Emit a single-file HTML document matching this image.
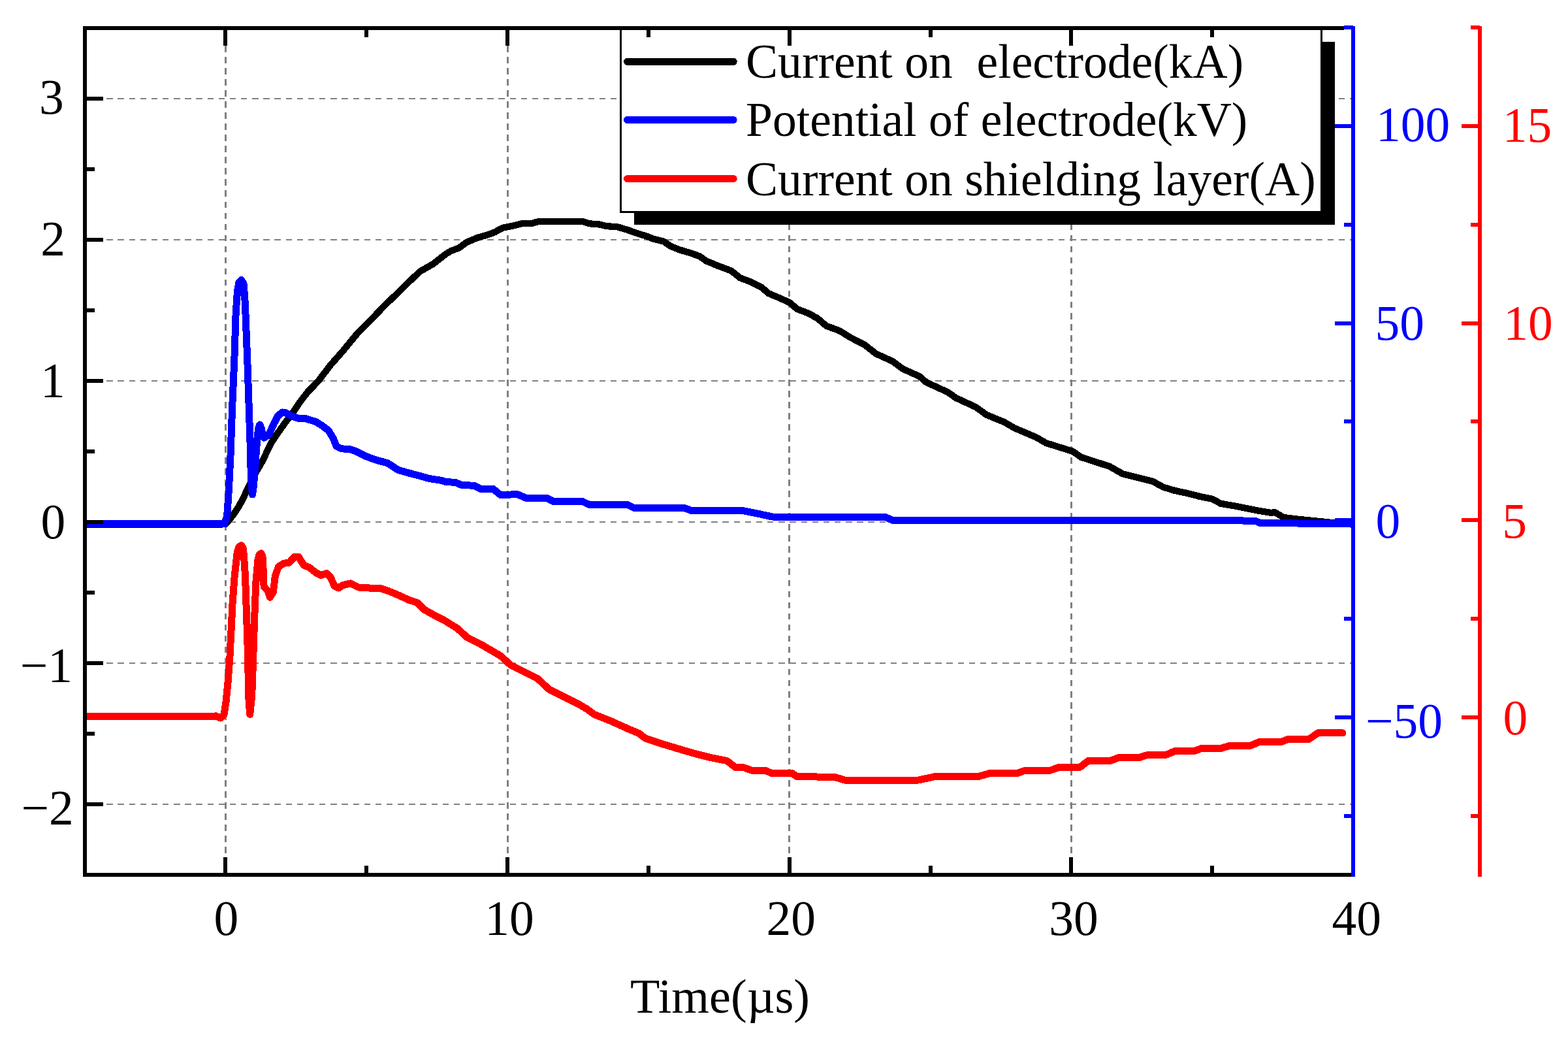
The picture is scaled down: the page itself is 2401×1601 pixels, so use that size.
<!DOCTYPE html>
<html><head><meta charset="utf-8"><title>Chart</title>
<style>html,body{margin:0;padding:0;background:#fff;} body{width:2401px;height:1601px;overflow:hidden;} svg{display:block;}</style>
</head><body>
<svg width="2401" height="1601" viewBox="0 0 2401 1601" shape-rendering="crispEdges">
<rect x="0" y="0" width="2401" height="1601" fill="#fff"/>
<g stroke="#808080" fill="none">
<line x1="345.4" y1="1340" x2="345.4" y2="43.0" stroke-width="3.0" stroke-dasharray="9.7 7.33"/>
<line x1="777.1" y1="1340" x2="777.1" y2="43.0" stroke-width="3.0" stroke-dasharray="9.7 7.33"/>
<line x1="1208.8" y1="1340" x2="1208.8" y2="43.0" stroke-width="3.0" stroke-dasharray="9.7 7.33"/>
<line x1="1640.4" y1="1340" x2="1640.4" y2="43.0" stroke-width="3.0" stroke-dasharray="9.7 7.33"/>
<line x1="128.9" y1="1231.0" x2="2072.0" y2="1231.0" stroke-width="2.2" stroke-dasharray="9.4 7.75"/>
<line x1="128.9" y1="1014.9" x2="2072.0" y2="1014.9" stroke-width="2.2" stroke-dasharray="9.4 7.75"/>
<line x1="128.9" y1="798.9" x2="2072.0" y2="798.9" stroke-width="2.2" stroke-dasharray="9.4 7.75"/>
<line x1="128.9" y1="582.9" x2="2072.0" y2="582.9" stroke-width="2.2" stroke-dasharray="9.4 7.75"/>
<line x1="128.9" y1="366.8" x2="2072.0" y2="366.8" stroke-width="2.2" stroke-dasharray="9.4 7.75"/>
<line x1="128.9" y1="150.8" x2="2072.0" y2="150.8" stroke-width="2.2" stroke-dasharray="9.4 7.75"/>
</g>
<clipPath id="pc"><rect x="130" y="43" width="1942" height="1295.8"/></clipPath>
<g clip-path="url(#pc)" fill="none" stroke-width="10.3" stroke-linejoin="round" stroke-linecap="round" shape-rendering="crispEdges">
<polyline stroke="#000" stroke-width="10.2" points="130.0,802.5 340.0,802.5 345.9,802.0 351.0,795.5 356.8,788.4 364.5,777.1 372.1,763.7 377.5,751.3 385.0,737.0 391.3,724.0 396.0,716.0 402.9,704.0 408.4,692.0 415.7,677.0 426.4,661.3 437.5,645.9 449.0,630.6 459.3,615.3 471.2,600.0 488.5,582.0 505.5,559.4 524.8,537.6 546.7,510.9 568.5,489.1 590.3,466.1 609.7,447.9 624.2,433.3 643.6,415.2 663.0,404.2 682.4,389.0 690.0,384.4 703.6,379.0 714.5,370.8 730.8,364.0 747.1,359.3 758.0,355.2 768.9,349.0 785.2,345.6 798.8,342.2 815.2,341.6 826.1,338.8 891.4,338.8 902.2,342.2 918.6,343.6 929.5,346.3 944.4,347.0 960.7,351.8 975.7,357.2 989.3,361.3 1000.0,365.4 1016.3,369.5 1027.2,377.0 1040.8,382.4 1057.1,387.2 1070.7,392.0 1081.6,399.5 1098.0,406.3 1119.7,414.4 1133.3,425.3 1149.7,431.4 1166.0,439.6 1176.9,449.1 1193.2,455.9 1209.5,463.4 1220.4,472.9 1238.1,479.7 1251.7,487.2 1265.3,498.8 1285.7,506.3 1302.0,516.5 1323.8,527.6 1341.6,541.6 1367.1,553.1 1382.4,564.6 1408.0,576.1 1418.2,585.0 1451.3,600.3 1464.1,609.2 1494.7,623.3 1510.0,634.7 1538.0,646.2 1553.4,655.2 1586.5,669.2 1601.8,678.1 1642.7,690.9 1655.4,699.8 1698.8,713.8 1719.2,725.3 1765.1,736.8 1781.0,745.5 1799.1,751.0 1818.3,755.0 1837.4,760.0 1856.5,763.8 1869.3,770.8 1888.4,774.0 1907.6,777.8 1926.7,781.6 1945.8,784.8 1952.2,784.2 1965.0,791.8 1984.1,794.4 2009.6,796.9 2035.1,799.5 2069.0,802.5"/>
<polyline stroke="#0000ff" stroke-width="11" points="130.0,801.5 340.0,801.5 344.0,801.5 347.6,789.5 349.3,766.6 350.7,743.6 351.8,720.6 353.0,697.7 355.7,622.2 358.8,551.5 361.1,480.7 363.5,445.4 366.0,432.0 369.5,428.4 373.0,434.0 374.8,455.0 376.0,480.7 378.8,551.5 381.2,622.2 383.7,697.7 384.1,720.6 385.3,743.6 386.5,757.0 388.4,743.6 390.3,720.6 391.9,697.7 394.1,669.0 396.0,654.0 397.7,650.0 400.0,655.0 403.0,668.0 404.5,670.0 411.5,665.8 419.1,649.0 425.3,636.8 432.2,631.0 436.8,631.4 445.9,636.5 457.4,640.6 467.4,640.6 483.6,645.5 493.3,651.5 503.0,658.8 510.3,670.9 515.2,683.0 522.4,686.7 537.0,687.9 544.2,690.3 561.2,698.8 578.2,704.8 592.7,708.5 602.4,714.5 609.7,719.4 626.7,724.2 641.2,727.9 658.2,732.7 675.2,735.2 682.4,737.6 697.0,738.3 706.7,742.4 725.9,743.3 736.1,748.4 755.3,748.4 766.7,757.8 792.2,756.5 805.0,762.1 836.9,762.1 847.1,767.5 891.7,767.5 901.9,772.3 960.6,772.3 970.8,777.4 1047.3,777.4 1060.1,782.0 1136.6,781.5 1164.7,787.1 1182.6,791.0 1355.7,791.5 1367.0,796.3 1899.9,796.3 1905.0,797.2 1922.0,797.2 1930.5,800.8 2069.0,801.3"/>
<polyline stroke="#ff0000" stroke-width="11" points="130.0,1097.0 322.4,1096.9 330.6,1095.9 337.8,1099.0 342.9,1093.9 345.9,1075.5 349.0,1044.9 352.0,1004.1 354.1,963.3 356.1,922.4 359.2,881.6 363.3,844.9 366.0,837.0 369.4,834.7 372.0,838.0 373.5,851.0 375.5,881.6 377.6,942.9 379.6,1004.1 380.6,1065.3 382.7,1093.5 385.7,1065.3 387.8,1004.1 389.8,942.9 391.8,891.8 394.9,857.1 397.0,849.0 400.0,846.9 402.0,852.0 403.1,871.4 404.1,898.0 410.2,904.1 413.3,914.3 418.4,906.1 421.4,881.6 426.5,867.3 434.7,862.2 442.9,861.2 451.0,852.0 457.1,852.0 465.3,865.3 473.5,868.4 483.7,876.5 491.8,880.6 500.0,877.6 506.1,883.7 512.2,896.9 518.4,900.0 524.5,895.9 536.7,892.9 549.0,899.0 565.3,900.0 581.6,900.0 595.9,905.1 606.1,909.2 626.5,918.4 638.8,922.4 649.0,932.7 667.3,942.9 679.6,949.0 700.4,961.9 715.7,975.9 736.1,986.1 751.4,995.0 766.7,1004.0 782.0,1018.0 802.4,1028.2 822.9,1038.4 840.7,1055.0 863.7,1066.5 884.1,1076.7 899.4,1085.6 909.6,1093.3 935.1,1103.5 960.6,1115.0 978.5,1122.6 988.7,1130.3 1011.6,1137.9 1037.1,1145.6 1049.9,1149.4 1067.8,1154.5 1088.2,1159.6 1113.7,1164.7 1126.4,1174.9 1139.2,1174.9 1151.9,1179.5 1172.3,1179.5 1182.5,1183.8 1213.1,1183.8 1220.8,1188.9 1277.4,1189.1 1293.1,1194.0 1406.4,1194.0 1430.9,1188.8 1497.1,1188.8 1514.5,1183.9 1556.4,1183.9 1570.3,1179.0 1608.7,1179.0 1622.6,1174.1 1654.0,1174.1 1666.2,1164.7 1699.3,1164.7 1713.3,1159.5 1744.6,1159.5 1758.6,1155.0 1786.5,1155.0 1798.7,1149.7 1828.3,1149.7 1840.5,1145.2 1870.2,1145.2 1884.1,1141.0 1915.5,1141.0 1927.7,1135.8 1960.8,1135.8 1973.0,1131.3 2004.4,1131.3 2018.4,1121.8 2056.0,1121.8"/>
</g>
<rect x="971" y="64" width="1073" height="280" fill="#000"/>
<rect x="949" y="43" width="1076" height="282.6" fill="#000"/>
<rect x="952" y="46" width="1070" height="277" fill="#fff"/>
<line x1="960.5" y1="94.4" x2="1123.3" y2="94.4" stroke="#000" stroke-width="10.8" stroke-linecap="round"/>
<line x1="960.5" y1="183.5" x2="1123.3" y2="183.5" stroke="#0000ff" stroke-width="10.8" stroke-linecap="round"/>
<line x1="960.5" y1="273.6" x2="1123.3" y2="273.6" stroke="#ff0000" stroke-width="10.8" stroke-linecap="round"/>
<g font-family="'Liberation Serif', 'Times New Roman', serif" font-size="73.6" fill="#000">
<text x="1142" y="119.1" xml:space="preserve" style="white-space:pre">Current on  electrode(kA)</text>
<text x="1142" y="208.4">Potential of electrode(kV)</text>
<text x="1142" y="298.7">Current on shielding layer(A)</text>
</g>
<g stroke-linecap="butt">
<line x1="130" y1="1231.0" x2="158" y2="1231.0" stroke="#000" stroke-width="6.0"/>
<line x1="130" y1="1014.9" x2="158" y2="1014.9" stroke="#000" stroke-width="6.0"/>
<line x1="130" y1="798.9" x2="158" y2="798.9" stroke="#000" stroke-width="6.0"/>
<line x1="130" y1="582.9" x2="158" y2="582.9" stroke="#000" stroke-width="6.0"/>
<line x1="130" y1="366.8" x2="158" y2="366.8" stroke="#000" stroke-width="6.0"/>
<line x1="130" y1="150.8" x2="158" y2="150.8" stroke="#000" stroke-width="6.0"/>
<line x1="130" y1="1122.9" x2="144.5" y2="1122.9" stroke="#000" stroke-width="6.0"/>
<line x1="130" y1="906.9" x2="144.5" y2="906.9" stroke="#000" stroke-width="6.0"/>
<line x1="130" y1="690.9" x2="144.5" y2="690.9" stroke="#000" stroke-width="6.0"/>
<line x1="130" y1="474.9" x2="144.5" y2="474.9" stroke="#000" stroke-width="6.0"/>
<line x1="130" y1="258.8" x2="144.5" y2="258.8" stroke="#000" stroke-width="6.0"/>
<line x1="345.4" y1="1338.8" x2="345.4" y2="1312" stroke="#000" stroke-width="6.0"/>
<line x1="345.4" y1="43" x2="345.4" y2="69.6" stroke="#000" stroke-width="6.0"/>
<line x1="777.1" y1="1338.8" x2="777.1" y2="1312" stroke="#000" stroke-width="6.0"/>
<line x1="777.1" y1="43" x2="777.1" y2="69.6" stroke="#000" stroke-width="6.0"/>
<line x1="1208.8" y1="1338.8" x2="1208.8" y2="1312" stroke="#000" stroke-width="6.0"/>
<line x1="1208.8" y1="43" x2="1208.8" y2="69.6" stroke="#000" stroke-width="6.0"/>
<line x1="1640.4" y1="1338.8" x2="1640.4" y2="1312" stroke="#000" stroke-width="6.0"/>
<line x1="1640.4" y1="43" x2="1640.4" y2="69.6" stroke="#000" stroke-width="6.0"/>
<line x1="561.3" y1="1338.8" x2="561.3" y2="1324.7" stroke="#000" stroke-width="6.0"/>
<line x1="561.3" y1="43" x2="561.3" y2="57" stroke="#000" stroke-width="6.0"/>
<line x1="992.9" y1="1338.8" x2="992.9" y2="1324.7" stroke="#000" stroke-width="6.0"/>
<line x1="992.9" y1="43" x2="992.9" y2="57" stroke="#000" stroke-width="6.0"/>
<line x1="1424.6" y1="1338.8" x2="1424.6" y2="1324.7" stroke="#000" stroke-width="6.0"/>
<line x1="1424.6" y1="43" x2="1424.6" y2="57" stroke="#000" stroke-width="6.0"/>
<line x1="1856.2" y1="1338.8" x2="1856.2" y2="1324.7" stroke="#000" stroke-width="6.0"/>
<line x1="1856.2" y1="43" x2="1856.2" y2="57" stroke="#000" stroke-width="6.0"/>
<line x1="130" y1="40.1" x2="130" y2="1341.7" stroke="#000" stroke-width="5.8"/>
<line x1="127.1" y1="1338.8" x2="2072" y2="1338.8" stroke="#000" stroke-width="5.8"/>
<line x1="127.1" y1="43" x2="2058" y2="43" stroke="#000" stroke-width="5.8"/>
<line x1="2044" y1="1097.7" x2="2072" y2="1097.7" stroke="#0000ff" stroke-width="6.0"/>
<line x1="2044" y1="796.1" x2="2072" y2="796.1" stroke="#0000ff" stroke-width="6.0"/>
<line x1="2044" y1="494.5" x2="2072" y2="494.5" stroke="#0000ff" stroke-width="6.0"/>
<line x1="2044" y1="192.9" x2="2072" y2="192.9" stroke="#0000ff" stroke-width="6.0"/>
<line x1="2058" y1="1248.5" x2="2072" y2="1248.5" stroke="#0000ff" stroke-width="6.0"/>
<line x1="2058" y1="946.9" x2="2072" y2="946.9" stroke="#0000ff" stroke-width="6.0"/>
<line x1="2058" y1="645.3" x2="2072" y2="645.3" stroke="#0000ff" stroke-width="6.0"/>
<line x1="2058" y1="343.7" x2="2072" y2="343.7" stroke="#0000ff" stroke-width="6.0"/>
<line x1="2058" y1="42.1" x2="2072" y2="42.1" stroke="#0000ff" stroke-width="6.0"/>
<line x1="2072" y1="40.1" x2="2072" y2="1341.7" stroke="#0000ff" stroke-width="5.8"/>
<line x1="2238" y1="1097.7" x2="2266" y2="1097.7" stroke="#ff0000" stroke-width="6.0"/>
<line x1="2238" y1="796.1" x2="2266" y2="796.1" stroke="#ff0000" stroke-width="6.0"/>
<line x1="2238" y1="494.5" x2="2266" y2="494.5" stroke="#ff0000" stroke-width="6.0"/>
<line x1="2238" y1="192.9" x2="2266" y2="192.9" stroke="#ff0000" stroke-width="6.0"/>
<line x1="2252" y1="1248.5" x2="2266" y2="1248.5" stroke="#ff0000" stroke-width="6.0"/>
<line x1="2252" y1="946.9" x2="2266" y2="946.9" stroke="#ff0000" stroke-width="6.0"/>
<line x1="2252" y1="645.3" x2="2266" y2="645.3" stroke="#ff0000" stroke-width="6.0"/>
<line x1="2252" y1="343.7" x2="2266" y2="343.7" stroke="#ff0000" stroke-width="6.0"/>
<line x1="2252" y1="42.1" x2="2266" y2="42.1" stroke="#ff0000" stroke-width="6.0"/>
<line x1="2266" y1="40.1" x2="2266" y2="1341.7" stroke="#ff0000" stroke-width="5.8"/>
</g>
<g font-family="'Liberation Serif', 'Times New Roman', serif" font-size="75.5">
<text x="59.9" y="174.0" fill="#000">3</text>
<text x="62.3" y="390.6" fill="#000">2</text>
<text x="62.0" y="607.7" fill="#000">1</text>
<text x="62.6" y="824.0" fill="#000">0</text>
<text x="30.7" y="1044.0" fill="#000">−1</text>
<text x="32.5" y="1261.9" fill="#000">−2</text>
<text x="327.5" y="1430.9" fill="#000">0</text>
<text x="742.2" y="1430.9" fill="#000">10</text>
<text x="1173.5" y="1430.9" fill="#000">20</text>
<text x="1606.3" y="1430.9" fill="#000">30</text>
<text x="2039.5" y="1430.9" fill="#000">40</text>
<text x="2107.0" y="216.3" fill="#0000ff">100</text>
<text x="2105.5" y="519.5" fill="#0000ff">50</text>
<text x="2106.4" y="822.8" fill="#0000ff">0</text>
<text x="2091.0" y="1129.2" fill="#0000ff">−50</text>
<text x="2300.8" y="217.3" fill="#ff0000">15</text>
<text x="2302.2" y="519.5" fill="#ff0000">10</text>
<text x="2300.3" y="822.5" fill="#ff0000">5</text>
<text x="2301.4" y="1124.0" fill="#ff0000">0</text>
</g>
<text x="965.0" y="1549.5" font-family="'Liberation Serif', 'Times New Roman', serif" font-size="74.2" fill="#000">Time(µs)</text>
</svg>
</body></html>
